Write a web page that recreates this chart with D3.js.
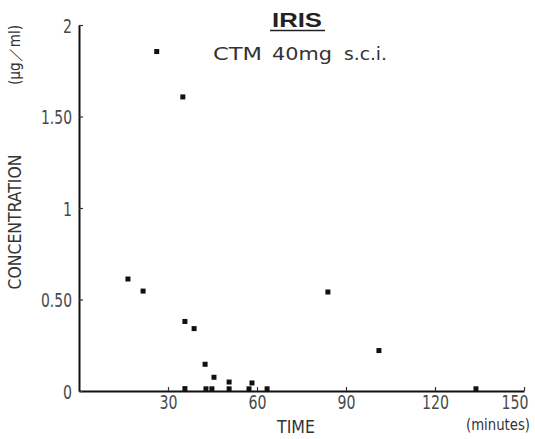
<!DOCTYPE html>
<html><head><meta charset="utf-8">
<script src="https://cdn.jsdelivr.net/npm/d3@7/dist/d3.min.js"></script>
<style>body{margin:0;background:#fff}svg{display:block}</style>
</head><body><svg id="c" width="535" height="439"></svg>
<script>
const timeMin = [26.2, 35.0, 16.5, 21.6, 35.7, 38.8, 42.5, 45.5, 50.6, 58.3, 83.9, 101.1, 35.7, 42.8, 44.8, 50.6, 57.3, 63.4, 133.8];
const conc    = [1.855, 1.607, 0.612, 0.546, 0.380, 0.341, 0.146, 0.075, 0.049, 0.044, 0.541, 0.221, 0.013, 0.012, 0.012, 0.012, 0.012, 0.012, 0.012];
const xTicks = [30, 60, 90, 120, 150];
const yTicks = [0, 0.5, 1, 1.5, 2];
const yTickLabels = ["0", "0.50", "1", "1.50", "2"];

const svg = d3.select("#c");
const x = d3.scaleLinear().domain([0, 150]).range([79, 524]);
const y = d3.scaleLinear().domain([0, 2]).range([391, 25]);
const grey = "#4a4a4a";
const font = "'Liberation Sans Narrow','DejaVu Sans Condensed',Arial,sans-serif";
const labelWidth = s => s.replace(/[^0-9]/g, "").length * 9 + s.replace(/[0-9]/g, "").length * 4;

// axes
const xAxis = svg.append("g").attr("transform", `translate(0,${y(0)})`)
  .call(d3.axisBottom(x).tickValues(xTicks).tickSize(-4).tickPadding(4).tickSizeOuter(0));
const yAxis = svg.append("g").attr("transform", `translate(${x(0)},0)`)
  .call(d3.axisLeft(y).tickValues(yTicks).tickFormat((d,i)=>yTickLabels[i]).tickSize(-4).tickPadding(7).tickSizeOuter(0));
[xAxis, yAxis].forEach(g => {
  g.select(".domain").attr("stroke", "#111").attr("stroke-width", 2);
  g.selectAll(".tick line").attr("stroke", "#333").attr("stroke-width", 1.2);
  g.selectAll(".tick text").attr("fill", grey).attr("font-family", font).attr("font-size", 20)
    .attr("lengthAdjust", "spacingAndGlyphs")
    .attr("textLength", function(){ return labelWidth(this.textContent); });
});
xAxis.selectAll(".tick text").attr("dy", "0.72em");
xAxis.selectAll(".tick text").filter(d => d === 150).attr("text-anchor", "end").attr("x", 4);
yAxis.selectAll(".tick text").attr("dy", "0.36em");

// points
svg.append("g").selectAll("rect").data(timeMin.map((t,i)=>[t, conc[i]])).join("rect")
  .attr("x", d => x(d[0]) - 2.5).attr("y", d => y(d[1]) - 2.5)
  .attr("width", 5).attr("height", 5).attr("fill", "#111");

// titles
svg.append("text").attr("x", 297).attr("y", 27).attr("text-anchor", "middle")
  .attr("font-family", "'Liberation Sans',Arial,sans-serif").attr("font-weight", "bold")
  .attr("font-size", 20).attr("fill", "#222")
  .attr("textLength", 50).attr("lengthAdjust", "spacingAndGlyphs").text("IRIS");
svg.append("line").attr("x1", 270).attr("x2", 325).attr("y1", 30.5).attr("y2", 30.5)
  .attr("stroke", "#222").attr("stroke-width", 1.5);
const subWords = [["CTM", 213, 49], ["40mg", 272, 60], ["s.c.i.", 344, 43]];
svg.append("g").selectAll("text").data(subWords).join("text")
  .attr("x", d => d[1]).attr("y", 60)
  .attr("font-family", "'DejaVu Sans',sans-serif").attr("font-size", 18).attr("fill", "#333")
  .attr("textLength", d => d[2]).attr("lengthAdjust", "spacingAndGlyphs").text(d => d[0]);

// axis labels
svg.append("text").attr("transform", "translate(21,222) rotate(-90)").attr("text-anchor", "middle")
  .attr("font-family", font).attr("font-size", 17).attr("fill", "#333")
  .attr("textLength", 135).attr("lengthAdjust", "spacingAndGlyphs").text("CONCENTRATION");
svg.append("text").attr("transform", "translate(20,55) rotate(-90)").attr("text-anchor", "middle")
  .attr("font-family", font).attr("font-size", 15).attr("fill", "#333")
  .attr("textLength", 60).attr("lengthAdjust", "spacingAndGlyphs").text("(μg／ml)");
svg.append("text").attr("x", 296).attr("y", 433).attr("text-anchor", "middle")
  .attr("font-family", font).attr("font-size", 17).attr("fill", "#333")
  .attr("textLength", 38).attr("lengthAdjust", "spacingAndGlyphs").text("TIME");
svg.append("text").attr("x", 498).attr("y", 430).attr("text-anchor", "middle")
  .attr("font-family", font).attr("font-size", 16).attr("fill", "#333")
  .attr("textLength", 64).attr("lengthAdjust", "spacingAndGlyphs").text("(minutes)");
</script></body></html>
